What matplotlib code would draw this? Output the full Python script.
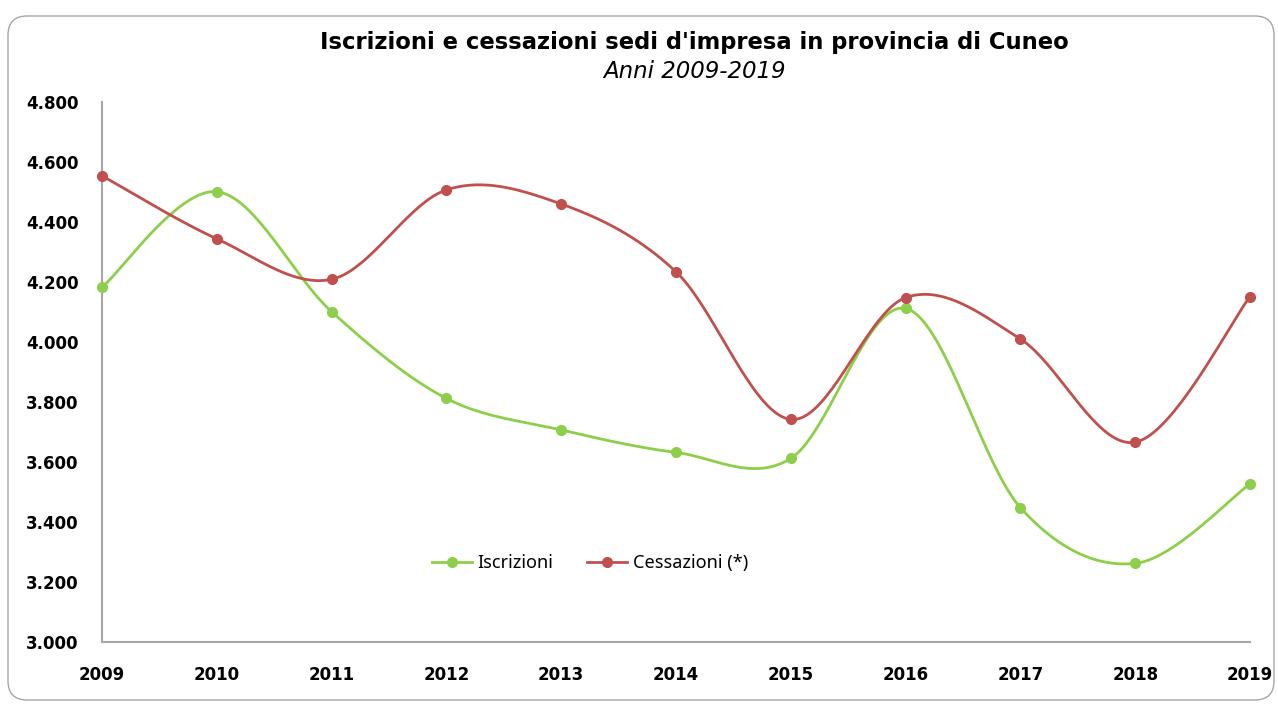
# -*- coding: utf-8 -*-

import numpy as np
import matplotlib
matplotlib.use('Agg')
import matplotlib.pyplot as plt
from matplotlib import ticker
from matplotlib.patches import FancyBboxPatch
from matplotlib.lines import Line2D

plt.rcParams['font.family'] = ['Noto Sans', 'DejaVu Sans']

years = [2009, 2010, 2011, 2012, 2013, 2014, 2015, 2016, 2017, 2018, 2019]
iscrizioni = [4182, 4501, 4101, 3812, 3707, 3632, 3612, 4112, 3448, 3262, 3527]
cessazioni = [4554, 4344, 4209, 4507, 4460, 4234, 3742, 4148, 4010, 3666, 4151]

green = '#8DCF4A'
red = '#C0504D'


def smooth(xs, ys, n=40):
    """Excel-like smoothed line: Catmull-Rom bezier through the points."""
    x = np.asarray(xs, float)
    y = np.asarray(ys, float)
    px = np.concatenate(([x[0]], x, [x[-1]]))
    py = np.concatenate(([y[0]], y, [y[-1]]))
    out_x, out_y = [], []
    t = np.linspace(0, 1, n)
    for i in range(1, len(px) - 2):
        p0 = np.array([px[i], py[i]])
        p3 = np.array([px[i + 1], py[i + 1]])
        c1 = p0 + (np.array([px[i + 1], py[i + 1]]) - np.array([px[i - 1], py[i - 1]])) / 6.0
        c2 = p3 - (np.array([px[i + 2], py[i + 2]]) - np.array([px[i], py[i]])) / 6.0
        b = ((1 - t) ** 3)[:, None] * p0 + (3 * (1 - t) ** 2 * t)[:, None] * c1 \
            + (3 * (1 - t) * t ** 2)[:, None] * c2 + (t ** 3)[:, None] * p3
        out_x.extend(b[:, 0])
        out_y.extend(b[:, 1])
    return out_x, out_y


fig = plt.figure(figsize=(12.78, 7.04), dpi=100)

# rounded chart frame, drawn behind the axes
frame = FancyBboxPatch((8 / 1278, 4 / 704), 1266 / 1278, 684 / 704,
                       boxstyle='round,pad=0,rounding_size=0.015',
                       transform=fig.transFigure, facecolor='white',
                       edgecolor='#A6A6A6', linewidth=1.0, mutation_aspect=1278 / 704,
                       zorder=-5)
fig.patches.append(frame)

ax = fig.add_axes([102 / 1278, 1 - 642 / 704, 1148 / 1278, 540 / 704])
ax.set_facecolor('none')

for vals, col in [(iscrizioni, green), (cessazioni, red)]:
    sx, sy = smooth(years, vals)
    ax.plot(sx, sy, color=col, linewidth=2.0, clip_on=False, zorder=3)
    ax.plot(years, vals, 'o', color=col, markersize=7, clip_on=False, zorder=4)

ax.set_xlim(2009, 2019)
ax.set_ylim(3000, 4800)
ax.set_xticks(years)
ax.set_yticks(np.arange(3000, 4801, 200))
ax.yaxis.set_major_formatter(ticker.FuncFormatter(lambda v, p: '{:,.0f}'.format(v).replace(',', '.')))
ax.tick_params(length=0, labelsize=12)
ax.tick_params(axis='y', pad=17)
ax.tick_params(axis='x', pad=17)
for lab in ax.get_xticklabels() + ax.get_yticklabels():
    lab.set_fontweight('bold')
    lab.set_family('DejaVu Sans')
for s in ['top', 'right']:
    ax.spines[s].set_visible(False)
for s in ['left', 'bottom']:
    ax.spines[s].set_color('#A6A6A6')
    ax.spines[s].set_linewidth(1.5)

handles = [Line2D([], [], color=green, marker='o', markersize=7, linewidth=2.0),
           Line2D([], [], color=red, marker='o', markersize=7, linewidth=2.0)]
ax.legend(handles, ['Iscrizioni', 'Cessazioni (*)'], loc='center', ncol=2,
          bbox_to_anchor=(590 / 1278, 1 - 563 / 704), bbox_transform=fig.transFigure,
          frameon=False, fontsize=13, handlelength=2.2, handletextpad=0.3, columnspacing=1.9)

fig.text(694 / 1278, 1 - 42 / 704, "Iscrizioni e cessazioni sedi d'impresa in provincia di Cuneo",
         ha='center', va='center', fontsize=16.3, fontweight='bold', family='DejaVu Sans')
fig.text(694 / 1278, 1 - 71 / 704, 'Anni 2009-2019', ha='center', va='center',
         fontsize=16.5, style='italic', family='DejaVu Sans')

fig.savefig('out.png', dpi=100)
